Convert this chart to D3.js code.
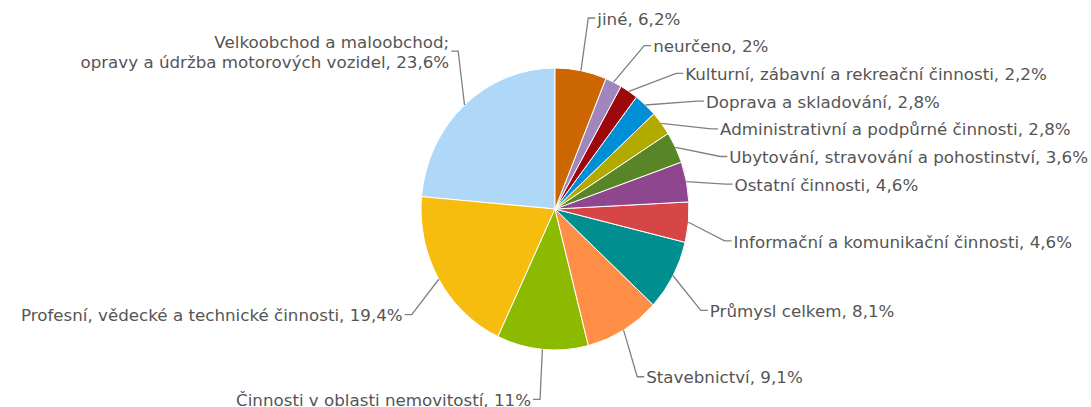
<!DOCTYPE html>
<html><head><meta charset="utf-8">
<script src="https://cdn.jsdelivr.net/npm/d3@7"></script>
<style>html,body{margin:0;padding:0;background:#fff;} svg{display:block}</style>
</head><body>
<svg id="chart" width="1091" height="407"></svg>
<script>
// Data (drawn counter-clockwise from 12 o'clock)
const categories = [
  "Velkoobchod a maloobchod;\nopravy a údržba motorových vozidel",
  "Profesní, vědecké a technické činnosti",
  "Činnosti v oblasti nemovitostí",
  "Stavebnictví",
  "Průmysl celkem",
  "Informační a komunikační činnosti",
  "Ostatní činnosti",
  "Ubytování, stravování a pohostinství",
  "Administrativní a podpůrné činnosti",
  "Doprava a skladování",
  "Kulturní, zábavní a rekreační činnosti",
  "neurčeno",
  "jiné"
];
const shares = [23.6, 19.4, 11, 9.1, 8.1, 4.6, 4.6, 3.6, 2.8, 2.8, 2.2, 2, 6.2];
const colors = ["#AFD8F8","#F6BD0F","#8BBA00","#FF8E46","#008E8E","#D64646","#8E468E","#588526","#B3AA00","#008ED6","#9D080D","#A186BE","#CC6600"];

const W = 1091, H = 407;
const cx = 555, cy = 209, r = 134, sy = 141 / 134;
const LRx = 172, LRy = 191, slotH = 27.7, lineH = 20, lowerBias = 14;

const locale = d3.formatLocale({decimal: ",", thousands: " ", grouping: [3], currency: ["", ""]});
const fmt = locale.format(".1~f");

const svg = d3.select("#chart");
const data = categories.map((c, i) => ({name: c, value: shares[i], color: colors[i]}));

const pie = d3.pie().sort(null).value(d => d.value).startAngle(0).endAngle(-2 * Math.PI);
const arcs = pie(data);
const arc = d3.arc().innerRadius(0).outerRadius(r);

const g = svg.append("g").attr("transform", `translate(${cx},${cy}) scale(1,${sy})`);
g.selectAll("path").data(arcs).join("path")
  .attr("d", arc)
  .attr("fill", d => d.data.color)
  .attr("stroke", "#ffffff")
  .attr("stroke-width", 1)
  .attr("vector-effect", "non-scaling-stroke");

// Label layout (slot based, per side)
const TAU = 2 * Math.PI;
const items = arcs.map(d => {
  let a = (d.startAngle + d.endAngle) / 2;
  a = ((a % TAU) + TAU) % TAU;
  const lines = (d.data.name + ", " + fmt(d.data.value) + "%").split("\n");
  const right = a < Math.PI;
  const c = Math.cos(a), s = Math.sin(a);
  let ny = cy - LRy * c;
  if (c < 0) ny += lowerBias * s * s;
  if (lines.length > 1 && c > 0) ny -= (lines.length - 1) * lineH * 0.85;
  return {
    d, a, right, lines,
    ex: cx + r * s,
    ey: cy - r * sy * c,
    ny
  };
});

const slotsBase = [];
for (let y = cy - LRy; y <= cy + LRy + 0.01; y += slotH) slotsBase.push(y);

function layoutSide(pts) {
  pts.sort((p, q) => p.ny - q.ny);
  const slots = slotsBase.slice();
  const n = pts.length, sl = slots.length;
  const used = [];
  pts.forEach((p, j) => {
    let best = Infinity, si = 0;
    for (let i = 0; i < sl; i++) {
      const dist = Math.abs(slotsBase[i] - p.ny);
      if (dist < best) { best = dist; si = i; }
    }
    if (si < j && slots[j] !== null) si = j;
    else if (sl < n - j + si && slots[j] !== null) {
      si = sl - n + j;
      while (slots[si] === null) si++;
    } else {
      while (si < sl && slots[si] === null) si++;
    }
    used.push({i: si, y: slotsBase[si]});
    slots[si] = null;
  });
  used.sort((u, v) => u.i - v.i);
  pts.forEach((p, j) => {
    const s = used[j];
    let y = s.y;
    if ((p.ny > y && slots[s.i + 1] !== null) || (p.ny < y && slots[s.i - 1] !== null)) y = p.ny;
    p.y = y;
    const yForX = (s.i === 0 || s.i === sl - 1) ? p.ny : y;
    const t = Math.max(-1, Math.min(1, (yForX - cy) / LRy));
    p.x = cx + (p.right ? 1 : -1) * LRx * Math.sqrt(1 - t * t);
  });
}
layoutSide(items.filter(p => p.right));
layoutSide(items.filter(p => !p.right));

const lg = svg.append("g");
lg.selectAll("path").data(items).join("path")
  .attr("d", p => {
    const path = d3.path();
    path.moveTo(p.ex, p.ey);
    path.lineTo(p.x, p.y);
    path.lineTo(p.x + (p.right ? 7 : -7), p.y);
    return path.toString();
  })
  .attr("fill", "none")
  .attr("stroke", "#808080")
  .attr("stroke-width", 1.3);

const tg = svg.append("g")
  .attr("font-family", "Verdana, 'DejaVu Sans', sans-serif")
  .attr("font-size", "16.7px")
  .attr("fill", "#555555");
items.forEach(p => {
  const t = tg.append("text")
    .attr("x", p.x + (p.right ? 9 : -9))
    .attr("y", p.y - (p.lines.length - 1) * lineH / 2)
    .attr("text-anchor", p.right ? "start" : "end");
  p.lines.forEach((ln, k) => {
    t.append("tspan")
      .attr("x", p.x + (p.right ? 9 : -9))
      .attr("dy", k === 0 ? "0.4em" : lineH + "px")
      .text(ln);
  });
});
</script>
</body></html>
